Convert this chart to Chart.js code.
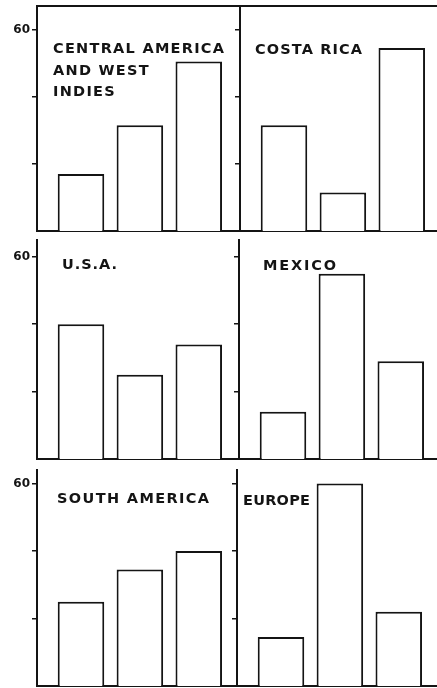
<!DOCTYPE html>
<html>
<head>
<meta charset="utf-8">
<script src="https://cdn.jsdelivr.net/npm/chart.js@4/dist/chart.umd.min.js"></script>
<style>
  html, body { margin: 0; padding: 0; background: #fff; overflow: hidden; }
  body { position: relative; width: 437px; height: 688px; }
  canvas { position: absolute; }
</style>
</head>
<body>
<script>
// Share of each group (percent), three groups per region
const groupIndex = [1, 2, 3];
const centralAmericaWestIndies = [17, 31.5, 50.5];
const costaRica = [31.5, 11.5, 54.5];
const usa = [40, 25, 34];
const mexico = [14, 55, 29];
const southAmerica = [25, 34.5, 40];
const europe = [14.5, 60, 22];

const yTickValues = [20, 40, 60];
const labelledTick = 60;

const regionTitles = [
  ['CENTRAL AMERICA', 'AND WEST', 'INDIES'],
  ['COSTA RICA'],
  ['U.S.A.'],
  ['MEXICO'],
  ['SOUTH AMERICA'],
  ['EUROPE']
];
const regionValues = [centralAmericaWestIndies, costaRica, usa, mexico, southAmerica, europe];

// Grid layout of the six small panels
const rows = [
  { top: 0,   height: 236, padTop: 0, frame: true,  baseH: 5, yMax: 67 },
  { top: 234, height: 230, padTop: 6, frame: false, baseH: 5, yMax: 65 },
  { top: 464, height: 224, padTop: 6, frame: false, baseH: 2, yMax: 64 }
];
const rightColLeft = [232, 231, 229];
// title offset inside the plot area and the width the first line is spread over
const titleStyle = [
  { dx: 16, dy: 47, span: 171 },
  { dx: 15, dy: 48, span: 107 },
  { dx: 25, dy: 29, span: 55 },
  { dx: 24, dy: 30, span: 73 },
  { dx: 20, dy: 33, span: 152 },
  { dx: 6,  dy: 35, span: 67 }
];

const INK = '#141414';
const X_MIN = 0.253, X_MAX = 3.70;
const TITLE_FONT = 'bold 14.5px "DejaVu Sans", "Liberation Sans", sans-serif';

const panelTitle = {
  id: 'panelTitle',
  afterDatasetsDraw(chart, args, opts) {
    const { ctx, chartArea } = chart;
    ctx.save();
    ctx.fillStyle = INK;
    ctx.font = TITLE_FONT;
    ctx.textBaseline = 'alphabetic';
    ctx.textAlign = 'left';
    const first = opts.lines[0];
    const natural = ctx.measureText(first).width;
    const spacing = Math.max(0, (opts.span - natural) / Math.max(1, first.length - 1));
    if ('letterSpacing' in ctx) ctx.letterSpacing = spacing.toFixed(2) + 'px';
    opts.lines.forEach((line, i) => {
      ctx.fillText(line, chartArea.left + opts.dx, chartArea.top + opts.dy + i * 21.5);
    });
    ctx.restore();
  }
};

function makePanel(idx) {
  const r = Math.floor(idx / 2), c = idx % 2;
  const row = rows[r];
  const left = c === 0 ? 0 : rightColLeft[r];
  const width = c === 0 ? 240 : 211;
  const axisW = c === 0 ? 37 : 8;

  const cv = document.createElement('canvas');
  cv.width = width; cv.height = row.height;
  cv.style.left = left + 'px'; cv.style.top = row.top + 'px';
  cv.style.width = width + 'px'; cv.style.height = row.height + 'px';
  document.body.appendChild(cv);

  const scales = {
    x: {
      type: 'linear', position: 'bottom', min: X_MIN, max: X_MAX, offset: false,
      grid: { display: false, drawTicks: false, offset: false },
      ticks: { display: false },
      border: { display: true, color: INK, width: 2 },
      afterBuildTicks: s => { s.ticks = groupIndex.map(v => ({ value: v })); },
      afterFit: s => { s.height = row.baseH; s.paddingLeft = 0; s.paddingRight = 0; }
    },
    y: {
      type: 'linear', position: 'left', min: 0, max: row.yMax,
      grid: { display: true, drawOnChartArea: false, drawTicks: true, tickLength: 5, color: INK, lineWidth: 1.5 },
      border: { display: true, color: INK, width: 2 },
      ticks: {
        padding: 2, color: INK,
        font: { family: '"DejaVu Sans", "Liberation Sans", sans-serif', size: 12, weight: 'bold' },
        callback: v => (c === 0 && v === labelledTick) ? String(v) : ''
      },
      afterBuildTicks: s => { s.ticks = yTickValues.map(v => ({ value: v })); },
      afterFit: s => { s.width = axisW; s.paddingTop = 0; s.paddingBottom = 0; }
    }
  };
  if (row.frame) {
    scales.xTop = {
      type: 'linear', position: 'top', min: X_MIN, max: X_MAX, offset: false,
      grid: { display: false, drawTicks: false, offset: false },
      ticks: { display: false },
      border: { display: true, color: INK, width: 2 },
      afterBuildTicks: s => { s.ticks = groupIndex.map(v => ({ value: v })); },
      afterFit: s => { s.height = 6; s.paddingLeft = 0; s.paddingRight = 0; }
    };
  }

  new Chart(cv, {
    type: 'bar',
    data: {
      datasets: [{
        data: groupIndex.map((g, i) => ({ x: g, y: regionValues[idx][i] })),
        backgroundColor: '#ffffff',
        borderColor: INK,
        borderWidth: 2,
        barPercentage: 0.79,
        categoryPercentage: 1
      }]
    },
    options: {
      responsive: false,
      animation: false,
      layout: { padding: { top: row.padTop, left: 0, right: 0, bottom: 0 } },
      plugins: {
        legend: { display: false },
        tooltip: { enabled: false },
        panelTitle: { lines: regionTitles[idx], ...titleStyle[idx] }
      },
      scales
    },
    plugins: [panelTitle]
  });
}

for (let i = 0; i < 6; i++) makePanel(i);
</script>
</body>
</html>
